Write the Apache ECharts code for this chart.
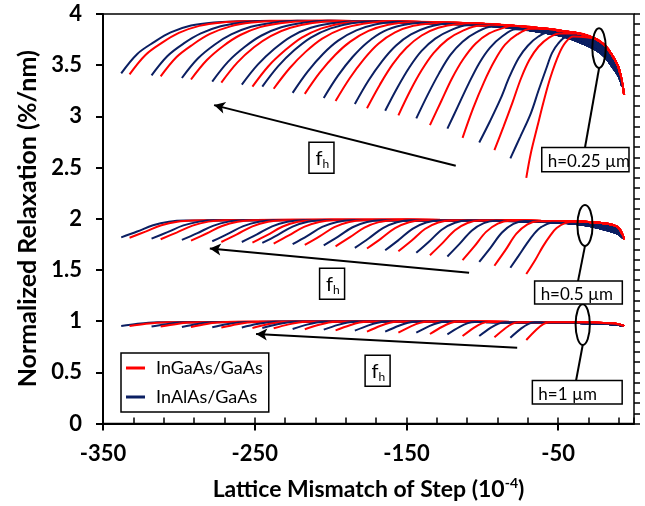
<!DOCTYPE html>
<html><head><meta charset="utf-8">
<script src="https://cdn.jsdelivr.net/npm/echarts@6/dist/echarts.min.js"></script>
<style>html,body{margin:0;padding:0;background:#fff}#c{width:645px;height:506px}</style>
</head><body><div id="c"></div>
<script>
// ---------------- DATA ----------------
const seriesNames = ['InGaAs/GaAs', 'InAlAs/GaAs'];
const panelLabels = ['h=0.25 µm', 'h=0.5 µm', 'h=1 µm'];

// h = 0.25 um : rising parts of each curve (start -> join with plateau)
const h025Blue = [
 [[-338,3.42],[-327.4,3.61],[-316.4,3.725],[-305.4,3.82],[-292,3.887],[-277,3.918],[-261,3.928]],
 [[-318,3.40],[-307.5,3.59],[-296.5,3.715],[-285.5,3.81],[-272.5,3.88],[-258,3.918],[-242,3.932]],
 [[-298,3.375],[-287.5,3.565],[-276.5,3.70],[-265.5,3.80],[-252.5,3.875],[-238,3.915],[-222,3.933]],
 [[-278,3.34],[-267.5,3.535],[-256.5,3.68],[-245.5,3.79],[-232.5,3.87],[-218,3.915],[-202,3.933]],
 [[-258.5,3.31],[-248,3.505],[-237,3.66],[-226,3.78],[-213,3.865],[-199,3.91],[-183,3.93]],
 [[-245,3.29],[-234.5,3.49],[-224,3.645],[-213,3.77],[-200,3.86],[-186,3.91],[-170,3.93]],
 [[-225,3.23],[-215,3.44],[-205,3.61],[-195,3.74],[-183,3.84],[-170,3.90],[-156,3.925]],
 [[-204.5,3.18],[-195,3.40],[-185.5,3.58],[-176,3.72],[-165,3.83],[-153,3.89],[-140,3.915]],
 [[-184,3.12],[-175,3.35],[-166,3.54],[-157,3.69],[-147,3.80],[-136,3.87],[-124,3.905]],
 [[-164,3.055],[-156,3.28],[-148,3.48],[-140,3.64],[-131,3.76],[-121,3.84],[-110,3.89]],
 [[-143.5,2.98],[-136,3.21],[-128.5,3.42],[-121,3.60],[-113,3.73],[-104,3.82],[-94,3.875]],
 [[-123,2.88],[-116,3.10],[-109,3.32],[-102,3.52],[-95,3.67],[-87,3.78],[-78,3.85]],
 [[-102,2.745],[-95,2.95],[-88,3.17],[-82,3.39],[-76,3.57],[-70,3.69],[-63,3.78],[-55,3.83]],
 [[-81.5,2.59],[-75,2.80],[-68,3.03],[-63,3.25],[-58,3.46],[-54,3.62],[-50,3.71],[-45,3.77]]
];
const h025Red = [
 [[-332.5,3.41],[-322,3.60],[-311,3.72],[-300,3.815],[-286.5,3.884],[-271.5,3.917],[-255,3.93]],
 [[-312,3.39],[-301.5,3.58],[-290.5,3.705],[-279.5,3.805],[-266.5,3.877],[-252,3.916],[-236,3.932]],
 [[-292,3.36],[-281.5,3.55],[-270.5,3.69],[-259.5,3.795],[-246.5,3.872],[-232,3.913],[-216,3.932]],
 [[-272,3.33],[-261.5,3.525],[-250.5,3.675],[-239.5,3.785],[-226.5,3.865],[-212,3.912],[-196,3.932]],
 [[-251.5,3.29],[-241,3.49],[-230,3.645],[-219,3.77],[-206,3.86],[-192,3.91],[-176,3.93]],
 [[-237.5,3.27],[-227,3.47],[-216.5,3.63],[-205.5,3.76],[-192.5,3.855],[-178.5,3.905],[-162,3.93]],
 [[-217,3.22],[-207,3.43],[-197,3.60],[-187,3.73],[-175,3.835],[-162,3.895],[-148,3.92]],
 [[-196.7,3.15],[-187.5,3.37],[-178,3.56],[-168.5,3.71],[-157.5,3.82],[-145.5,3.885],[-132,3.91]],
 [[-176,3.08],[-167.5,3.31],[-159,3.51],[-150,3.67],[-140,3.79],[-129,3.865],[-117,3.90]],
 [[-155.3,3.01],[-147.5,3.25],[-140,3.45],[-132,3.62],[-123,3.75],[-113,3.835],[-102,3.885]],
 [[-134.5,2.915],[-127,3.15],[-120,3.37],[-112.5,3.56],[-104.5,3.71],[-95.5,3.81],[-85,3.87]],
 [[-113,2.79],[-106,3.08],[-99,3.33],[-92,3.54],[-85,3.70],[-77,3.80],[-68,3.855]],
 [[-92,2.67],[-86,2.90],[-80,3.14],[-74.5,3.37],[-69,3.55],[-63,3.68],[-56,3.77],[-49,3.81]],
 [[-71,2.40],[-68,2.64],[-63.7,2.90],[-59.3,3.16],[-55,3.385],[-49.4,3.61],[-45,3.725],[-40,3.78]]
];
const h025RedTail = [[-240,3.935],[-200,3.935],[-160,3.928],[-120,3.915],[-100,3.905],[-80,3.885],[-58,3.855],[-45,3.83],[-36,3.81],[-25,3.755],[-19,3.69],[-14.5,3.60],[-10,3.47],[-6.5,3.21]];
const h025BlueTail = [[-240,3.932],[-200,3.93],[-160,3.92],[-120,3.903],[-100,3.89],[-80,3.865],[-58,3.815],[-45,3.775],[-36,3.725],[-25,3.65],[-19,3.58],[-14.5,3.49],[-10,3.39],[-7.7,3.29]];

// h = 0.5 um
const h05Blue = [
 [[-338,1.818],[-327.5,1.875],[-317,1.936],[-306.5,1.97],[-296,1.982]],
 [[-318,1.806],[-307.5,1.869],[-297,1.935],[-286.5,1.972],[-276,1.985]],
 [[-298,1.793],[-287.75,1.86],[-277.5,1.931],[-267.25,1.972],[-257,1.985]],
 [[-278,1.78],[-267.75,1.852],[-257.5,1.928],[-247.25,1.971],[-237,1.985]],
 [[-258.5,1.773],[-248.5,1.847],[-238.5,1.926],[-228.5,1.97],[-218.5,1.985]],
 [[-245,1.764],[-235,1.841],[-225,1.923],[-215,1.97],[-205,1.985]],
 [[-225,1.751],[-215.25,1.833],[-205.5,1.92],[-195.75,1.969],[-186,1.985]],
 [[-204.5,1.741],[-195,1.826],[-185.5,1.917],[-176,1.968],[-166.5,1.985]],
 [[-184,1.715],[-174.75,1.81],[-165.5,1.909],[-156.25,1.966],[-147,1.985]],
 [[-164,1.692],[-155,1.794],[-146,1.902],[-137,1.964],[-128,1.984]],
 [[-143.5,1.667],[-135,1.778],[-126.5,1.895],[-118,1.961],[-109.5,1.983]],
 [[-123,1.631],[-115,1.754],[-107,1.883],[-99,1.957],[-91,1.981]],
 [[-102,1.579],[-94.5,1.719],[-87,1.866],[-79.5,1.95],[-72,1.978]],
 [[-81.5,1.521],[-76,1.64],[-71,1.75],[-66,1.85],[-61,1.92],[-54,1.962]]
];
const h05Red = [
 [[-332.5,1.815],[-322,1.874],[-311.5,1.936],[-301,1.971],[-290.5,1.983]],
 [[-312,1.80],[-301.5,1.865],[-291,1.933],[-280.5,1.972],[-270,1.985]],
 [[-292,1.786],[-281.75,1.856],[-271.5,1.929],[-261.25,1.971],[-251,1.985]],
 [[-272,1.773],[-261.75,1.847],[-251.5,1.926],[-241.25,1.97],[-231,1.985]],
 [[-251.5,1.767],[-241.5,1.843],[-231.5,1.924],[-221.5,1.97],[-211.5,1.985]],
 [[-237.5,1.757],[-227.5,1.837],[-217.5,1.921],[-207.5,1.969],[-197.5,1.985]],
 [[-217,1.744],[-207.25,1.828],[-197.5,1.918],[-187.75,1.968],[-178,1.985]],
 [[-196.7,1.731],[-187.2,1.82],[-177.7,1.914],[-168.2,1.967],[-158.7,1.985]],
 [[-176,1.709],[-166.75,1.806],[-157.5,1.908],[-148.25,1.966],[-139,1.985]],
 [[-155.3,1.683],[-146.5,1.788],[-137.8,1.90],[-129,1.963],[-120.3,1.984]],
 [[-134.5,1.644],[-126.25,1.762],[-118,1.887],[-109.75,1.958],[-101.5,1.982]],
 [[-113,1.596],[-105.25,1.73],[-97.5,1.872],[-89.75,1.953],[-82,1.98]],
 [[-92,1.541],[-84.75,1.693],[-77.5,1.854],[-70.25,1.946],[-63,1.976]],
 [[-71,1.46],[-65,1.60],[-60,1.73],[-55,1.84],[-51,1.91],[-45,1.96]]
];
const h05RedTail = [[-280,1.985],[-250,1.988],[-200,1.99],[-150,1.99],[-100,1.986],[-70,1.98],[-50,1.976],[-38,1.972],[-28,1.966],[-20,1.957],[-14,1.94],[-10,1.91],[-6.5,1.80]];
const h05BlueTail = [[-280,1.983],[-250,1.986],[-200,1.987],[-150,1.986],[-100,1.982],[-70,1.973],[-50,1.963],[-38,1.948],[-28,1.926],[-20,1.897],[-14,1.872],[-10,1.848],[-7,1.81]];

// h = 1 um
const h1Blue = [
 [[-338,0.953],[-327.2,0.974],[-320,0.985],[-314,0.988]],
 [[-318,0.947],[-307.2,0.973],[-300,0.986],[-294,0.99]],
 [[-298,0.943],[-287.6,0.972],[-280.75,0.986],[-275,0.991]],
 [[-278,0.940],[-267.6,0.971],[-260.75,0.987],[-255,0.992]],
 [[-258.5,0.937],[-248.6,0.971],[-242,0.987],[-236.5,0.993]],
 [[-245,0.933],[-235.1,0.969],[-228.5,0.987],[-223,0.993]],
 [[-225,0.923],[-215.55,0.966],[-209.25,0.987],[-204,0.994]],
 [[-204.5,0.917],[-195.05,0.963],[-188.75,0.986],[-183.5,0.994]],
 [[-184,0.907],[-175,0.959],[-169,0.985],[-164,0.994]],
 [[-164,0.897],[-155,0.955],[-149,0.984],[-144,0.994]],
 [[-143.5,0.887],[-134.95,0.951],[-129.25,0.982],[-124.5,0.993]],
 [[-123,0.871],[-114.9,0.944],[-109.5,0.98],[-105,0.992]],
 [[-102,0.854],[-94.35,0.936],[-89.25,0.976],[-85,0.99]],
 [[-81.5,0.838],[-74.3,0.929],[-69.5,0.974],[-65.5,0.989]]
];
const h1Red = [
 [[-332.5,0.953],[-321.7,0.974],[-314.5,0.985],[-308.5,0.988]],
 [[-312,0.947],[-301.2,0.973],[-294,0.986],[-288,0.99]],
 [[-292,0.943],[-281.65,0.972],[-274.75,0.986],[-269,0.991]],
 [[-272,0.937],[-261.65,0.97],[-254.75,0.987],[-249,0.992]],
 [[-251.5,0.933],[-241.6,0.969],[-235,0.987],[-229.5,0.993]],
 [[-237.5,0.930],[-227.6,0.968],[-221,0.987],[-215.5,0.993]],
 [[-217,0.920],[-207.55,0.964],[-201.25,0.987],[-196,0.994]],
 [[-196.7,0.910],[-187.25,0.96],[-180.95,0.986],[-175.7,0.994]],
 [[-176,0.897],[-167,0.955],[-161,0.984],[-156,0.994]],
 [[-155.3,0.887],[-146.75,0.951],[-141.05,0.983],[-136.3,0.994]],
 [[-134.5,0.874],[-126.4,0.945],[-121,0.981],[-116.5,0.993]],
 [[-113,0.854],[-105.35,0.937],[-100.25,0.978],[-96,0.992]],
 [[-92,0.842],[-84.8,0.931],[-80,0.975],[-76,0.99]],
 [[-71,0.816],[-64.25,0.919],[-59.75,0.971],[-56,0.988]]
];
const h1RedTail = [[-300,0.99],[-250,0.993],[-200,0.995],[-150,0.995],[-100,0.993],[-60,0.99],[-40,0.988],[-25,0.984],[-15,0.976],[-10,0.968],[-6.5,0.953]];
const h1BlueTail = [[-300,0.988],[-250,0.992],[-200,0.994],[-150,0.994],[-100,0.991],[-60,0.987],[-40,0.983],[-25,0.977],[-15,0.97],[-10,0.962],[-7,0.953]];

// annotations (data coordinates)
const arrowTails = [[-117.5,2.517],[-108.7,1.472],[-77,0.740]];
const arrowHeads = [[-276.8,3.11],[-279.6,1.709],[-249.1,0.874]];
const fhCenters = [[-206,2.595],[-199,1.364],[-169,0.516]];
const ellipseBounds = [[-27.5,3.861,-18.6,3.473],[-37.3,2.135,-27.3,1.735],[-38.5,1.165,-29.1,0.767]];
const connectors = [[[-23.0,3.473],[-32.3,2.696]],[[-32.3,1.735],[-36.9,1.391]],[[-33.8,0.767],[-38.2,0.420]]];
const labelBoxes = [[-60.8,2.696,-3.3,2.459],[-65.5,1.391,-7.7,1.168],[-67,0.420,-7.8,0.191]];

// ---------------- CHART ----------------
const RED = '#FF0000', NAVY = '#0B1F62';
const FONT = 'Lato, "Liberation Sans", sans-serif';

function withTail(pts, tail) {
  const lastX = pts[pts.length - 1][0];
  return pts.concat(tail.filter(p => p[0] > lastX + 4));
}
function bandSeries(upper, lower, fromX) {
  return {
    type: 'custom', coordinateSystem: 'cartesian2d', silent: true, z: 1,
    data: [upper[0]],
    renderItem: (params, api) => {
      const pts = upper.filter(p => p[0] >= fromX).map(p => api.coord(p))
        .concat(lower.filter(p => p[0] >= fromX).slice().reverse().map(p => api.coord(p)));
      return { type: 'polygon', shape: { points: pts }, style: { fill: NAVY } };
    }
  };
}
function lineSeries(name, color, data) {
  return {
    type: 'line', name, data, showSymbol: false, symbol: 'none',
    smooth: 0.35, silent: true, z: 3,
    lineStyle: { color, width: 2 }, itemStyle: { color }
  };
}

const series = [];
const panels = [
  [h025Blue, h025Red, h025BlueTail, h025RedTail],
  [h05Blue, h05Red, h05BlueTail, h05RedTail],
  [h1Blue, h1Red, h1BlueTail, h1RedTail]
];
panels.forEach(([blues, reds, bTail, rTail]) => {
  series.push(bandSeries(rTail, bTail, -100));
  for (let i = 0; i < blues.length; i++) {
    series.push(lineSeries(seriesNames[1], NAVY, withTail(blues[i], bTail)));
    series.push(lineSeries(seriesNames[0], RED, withTail(reds[i], rTail)));
  }
});
// arrows
series.push({
  type: 'line', data: [], silent: true,
  markLine: {
    silent: true, symbol: ['none', 'arrow'], symbolSize: [9, 11], animation: false,
    label: { show: false },
    lineStyle: { color: '#000', width: 2, type: 'solid' },
    data: arrowTails.map((t, i) => [{ coord: t }, { coord: arrowHeads[i] }])
  }
});

const option = {
  animation: false,
  grid: { left: 103, top: 14, right: 11, bottom: 81, show: true, borderColor: '#000', borderWidth: 1.5, backgroundColor: 'transparent' },
  legend: {
    data: [{ name: seriesNames[0], icon: 'rect' }, { name: seriesNames[1], icon: 'rect' }],
    orient: 'vertical', left: 121, top: 353,
    itemWidth: 19, itemHeight: 3, itemGap: 11,
    padding: [6, 6, 6, 5],
    borderColor: '#000', borderWidth: 1.5, backgroundColor: '#fff',
    selectedMode: false,
    textStyle: { fontFamily: FONT, fontSize: 18, color: '#000', padding: [0, 0, 0, 6] }
  },
  xAxis: [
    {
      type: 'value', min: -350, max: 0, interval: 100, position: 'bottom',
      name: '{a|Lattice Mismatch of Step (10}{s|-4}{a|)}',
      nameLocation: 'middle', nameGap: 53,
      nameTextStyle: { rich: {
        a: { fontFamily: FONT, fontWeight: 'bold', fontSize: 23, color: '#000' },
        s: { fontFamily: FONT, fontWeight: 'bold', fontSize: 14, color: '#000', verticalAlign: 'top', padding: [0, 0, 12, 0] }
      } },
      axisLine: { onZero: false, lineStyle: { color: '#000', width: 2 } },
      axisTick: { length: 7, lineStyle: { color: '#000', width: 2 } },
      axisLabel: { showMaxLabel: false, color: '#000', fontFamily: FONT, fontWeight: 'bold', fontSize: 22, margin: 19 },
      splitLine: { show: false }
    },
    {
      type: 'value', min: -350, max: 0, interval: 20, position: 'bottom',
      axisLine: { show: false },
      axisTick: { inside: true, length: 6, lineStyle: { color: '#000', width: 1.5 } },
      axisLabel: { show: false }, splitLine: { show: false }
    }
  ],
  yAxis: [
    {
      type: 'value', min: 0, max: 4, interval: 0.5, position: 'left',
      name: 'Normalized Relaxation (%/nm)', nameLocation: 'middle', nameGap: 59,
      nameTextStyle: { fontFamily: FONT, fontWeight: 'bold', fontSize: 25, color: '#000' },
      axisLine: { onZero: false, lineStyle: { color: '#000', width: 2 } },
      axisTick: { length: 7, lineStyle: { color: '#000', width: 2 } },
      axisLabel: { color: '#000', fontFamily: FONT, fontWeight: 'bold', fontSize: 22, margin: 21 },
      splitLine: { show: false }
    },
    {
      type: 'value', min: 0, max: 4, interval: 0.1, position: 'left',
      axisLine: { show: false },
      axisTick: { inside: true, length: 6, lineStyle: { color: '#000', width: 1.5 } },
      axisLabel: { show: false }, splitLine: { show: false }
    }
  ],
  series
};

const chart = echarts.init(document.getElementById('c'));
chart.setOption(option);

const toPx = p => chart.convertToPixel({ xAxisIndex: 0, yAxisIndex: 0 }, p);
const graphics = [];
ellipseBounds.forEach(b => {
  const a = toPx([b[0], b[1]]), c = toPx([b[2], b[3]]);
  graphics.push({ type: 'ellipse', z: 100, silent: true,
    shape: { cx: (a[0] + c[0]) / 2, cy: (a[1] + c[1]) / 2, rx: (c[0] - a[0]) / 2, ry: (c[1] - a[1]) / 2 },
    style: { fill: null, stroke: '#000', lineWidth: 2 } });
});
connectors.forEach(l => {
  const a = toPx(l[0]), c = toPx(l[1]);
  graphics.push({ type: 'line', z: 100, silent: true, shape: { x1: a[0], y1: a[1], x2: c[0], y2: c[1] },
    style: { stroke: '#000', lineWidth: 2 } });
});
labelBoxes.forEach((b, i) => {
  const a = toPx([b[0], b[1]]), c = toPx([b[2], b[3]]);
  graphics.push({ type: 'rect', z: 100, silent: true, shape: { x: a[0], y: a[1], width: c[0] - a[0], height: c[1] - a[1] },
    style: { fill: '#fff', stroke: '#000', lineWidth: 1.5 } });
  graphics.push({ type: 'text', z: 101, silent: true, x: a[0] + 6, y: (a[1] + c[1]) / 2 + 2,
    style: { text: panelLabels[i], fill: '#000', font: '17px ' + FONT, verticalAlign: 'middle', align: 'left' } });
});
fhCenters.forEach(p => {
  const c = toPx(p);
  graphics.push({ type: 'rect', z: 100, silent: true, shape: { x: c[0] - 12.5, y: c[1] - 15.5, width: 25, height: 31 },
    style: { fill: '#fff', stroke: '#000', lineWidth: 1.5 } });
  graphics.push({ type: 'text', z: 101, silent: true, x: c[0] - 6, y: c[1] + 1,
    style: { text: '{f|f}{h|h}', fill: '#000', verticalAlign: 'middle', align: 'left',
      rich: { f: { fontFamily: FONT, fontSize: 20, fill: '#000' },
              h: { fontFamily: FONT, fontSize: 12, fill: '#000', padding: [10, 0, 0, 0] } } } });
});
chart.setOption({ graphic: graphics });
</script>
</body></html>
